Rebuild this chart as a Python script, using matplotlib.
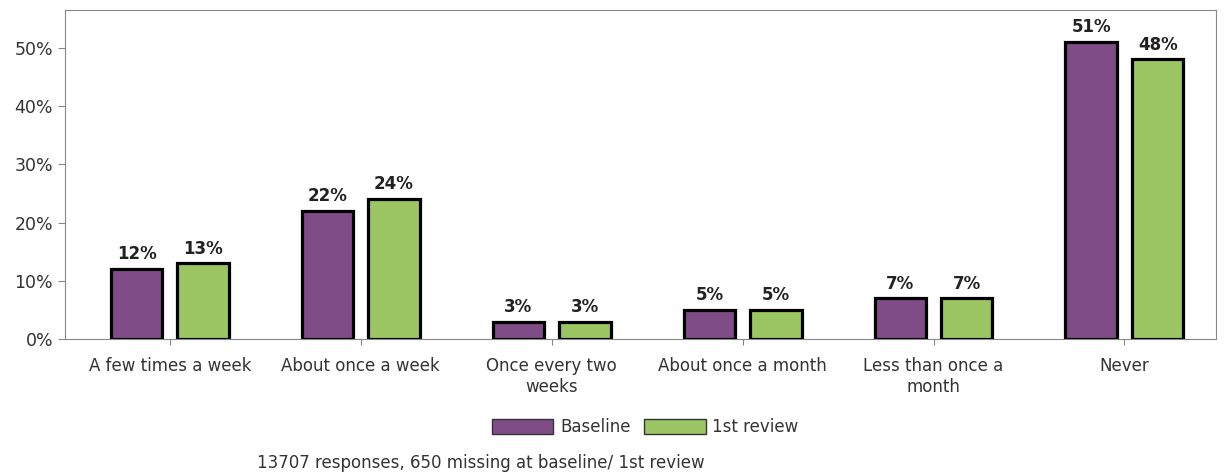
import numpy as np
import matplotlib.pyplot as plt
from matplotlib.patches import Patch

# data
categories = ["A few times a week", "About once a week", "Once every two\nweeks",
              "About once a month", "Less than once a\nmonth", "Never"]
baseline = [12, 22, 3, 5, 7, 51]
review1 = [13, 24, 3, 5, 7, 48]
series_names = ["Baseline", "1st review"]
footnote = "13707 responses, 650 missing at baseline/ 1st review"

purple = "#7f4c88"
green = "#9bc663"

fig = plt.figure(figsize=(12.24, 4.75), dpi=100)
ax = fig.add_axes([0.053, 0.286, 0.9405, 0.693])

x = np.arange(len(categories))
w = 0.27
off = 0.174
b1 = ax.bar(x - off, baseline, w, color=purple, edgecolor="black", linewidth=2.3)
b2 = ax.bar(x + off, review1, w, color=green, edgecolor="black", linewidth=2.3)

for bars, vals in ((b1, baseline), (b2, review1)):
    for r, v in zip(bars, vals):
        ax.text(r.get_x() + r.get_width() / 2, v + 1.0, f"{v}%", ha="center", va="bottom",
                fontsize=12, fontweight="bold", color="#222222")

ax.set_xlim(-0.55, 5.48)
ax.set_ylim(0, 56.5)
ax.set_yticks(range(0, 60, 10))
ax.set_yticklabels([f"{t}%" for t in range(0, 60, 10)], fontsize=12.5, color="#333333")
ax.set_xticks(x)
ax.set_xticklabels(categories, fontsize=12, color="#333333")
ax.tick_params(axis="y", length=5, color="#888888")
ax.tick_params(axis="x", length=4, color="#888888", pad=9)
for s in ax.spines.values():
    s.set_color("#888888")

handles = [Patch(facecolor=purple, edgecolor="#333333", label=series_names[0]),
           Patch(facecolor=green, edgecolor="#333333", label=series_names[1])]
fig.legend(handles=handles, loc="center", bbox_to_anchor=(0.527, 0.101), ncol=2,
           frameon=False, fontsize=12, handlelength=3.7, handleheight=1.0,
           columnspacing=0.8, handletextpad=0.4, labelcolor="#333333")

fig.text(0.21, 0.025, footnote, fontsize=12, color="#333333", ha="left", va="center")

plt.savefig("out.png", dpi=100)
